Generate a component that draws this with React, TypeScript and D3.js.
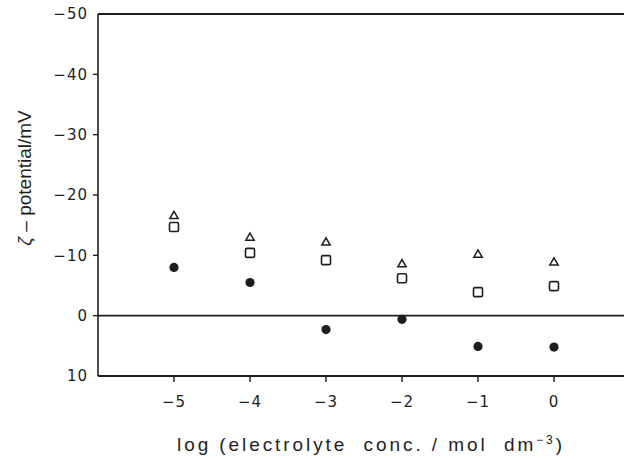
import React from "react";
import * as d3 from "d3";

// log concentration of electrolyte
const logConc = [-5, -4, -3, -2, -1, 0];
// zeta potentials (mV), three series
const triangleSeries = [-16.5, -12.9, -12.1, -8.5, -10.1, -8.8];
const squareSeries = [-14.7, -10.4, -9.2, -6.2, -3.9, -4.9];
const circleSeries = [-8.0, -5.5, 2.3, 0.6, 5.1, 5.2];

const xTicks = [-5, -4, -3, -2, -1, 0];
const yTicks = [-50, -40, -30, -20, -10, 0, 10];

const W = 624;
const H = 459;
const left = 98;
const top = 14;
const bottom = 376;

const fmt = (v: number) => (v < 0 ? "\u2212" + Math.abs(v) : String(v));

export default function App() {
  const x = d3.scaleLinear().domain([-6, 1]).range([left, left + 7 * 76]);
  const y = d3.scaleLinear().domain([-50, 10]).range([top, bottom]);
  const ink = "#1e1e1e";
  const font = "'DejaVu Sans', Verdana, sans-serif";
  const titleFont = "'Liberation Sans', Arial, sans-serif";
  const tri = d3.symbol().type(d3.symbolTriangle).size(30)();

  return (
    <svg
      width={W}
      height={H}
      style={{ position: "absolute", left: 0, top: 0, background: "#fff" }}
    >
      {/* frame: left, top, bottom, and zero line */}
      <line x1={left} y1={top} x2={left} y2={bottom} stroke={ink} strokeWidth={1.6} />
      <line x1={left} y1={top} x2={W} y2={top} stroke={ink} strokeWidth={1.8} />
      <line x1={left} y1={bottom} x2={W} y2={bottom} stroke={ink} strokeWidth={1.8} />
      <line x1={left} y1={y(0)} x2={W} y2={y(0)} stroke={ink} strokeWidth={1.6} />

      {/* y axis ticks */}
      {yTicks.map((t) => (
        <g key={"y" + t}>
          {t !== 10 && t !== -50 && (
            <line x1={left - 5} x2={left} y1={y(t)} y2={y(t)} stroke={ink} strokeWidth={1.4} />
          )}
          <text
            x={left - 10}
            y={y(t)}
            dy="0.36em"
            textAnchor="end"
            fontFamily={font}
            fontSize={15}
            letterSpacing={1}
            fill={ink}
          >
            {fmt(t)}
          </text>
        </g>
      ))}

      {/* x axis ticks */}
      {xTicks.map((t) => (
        <g key={"x" + t}>
          <line x1={x(t)} x2={x(t)} y1={bottom} y2={bottom + 6} stroke={ink} strokeWidth={1.4} />
          <text
            x={x(t)}
            y={bottom + 31}
            textAnchor="middle"
            fontFamily={font}
            fontSize={15}
            letterSpacing={1}
            fill={ink}
          >
            {fmt(t)}
          </text>
        </g>
      ))}

      {/* axis titles */}
      <text
        x={177}
        y={451}
        fontFamily={titleFont}
        fontSize={19}
        fill={ink}
        textLength={385}
        lengthAdjust="spacing"
        style={{ whiteSpace: "pre" }}
      >
        {"log (electrolyte  conc. / mol  dm"}
        <tspan dy={-7} fontSize={12}>−3</tspan>
        <tspan dy={7}>)</tspan>
      </text>
      <text
        transform={`translate(31, ${178}) rotate(-90)`}
        textAnchor="middle"
        fontFamily={titleFont}
        fontSize={19}
        fill={ink}
        style={{ whiteSpace: "pre" }}
      >
        <tspan fontStyle="italic">ζ</tspan>
        {" – potential/mV"}
      </text>

      {/* markers */}
      {logConc.map((c, i) => (
        <g key={"m" + c}>
          <path
            d={tri as string}
            transform={`translate(${x(c)}, ${y(triangleSeries[i])})`}
            fill="none"
            stroke={ink}
            strokeWidth={1.5}
          />
          <rect
            x={x(c) - 4.5}
            y={y(squareSeries[i]) - 4.5}
            width={9}
            height={9}
            rx={1.5}
            fill="none"
            stroke={ink}
            strokeWidth={1.6}
          />
          <circle cx={x(c)} cy={y(circleSeries[i])} r={4.6} fill={ink} />
        </g>
      ))}
    </svg>
  );
}
